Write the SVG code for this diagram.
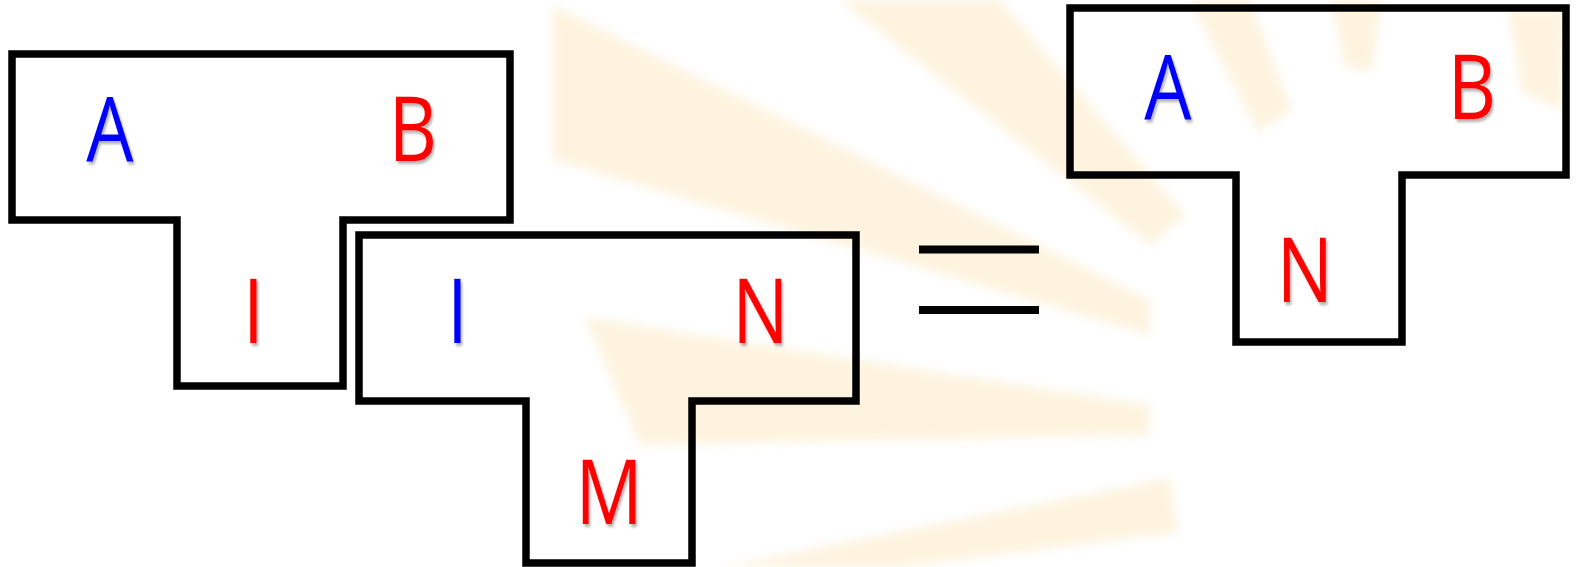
<svg xmlns="http://www.w3.org/2000/svg" width="1579" height="567" viewBox="0 0 1579 567">
  <defs>
    <filter id="shadow" x="-20%" y="-20%" width="140%" height="140%">
      <feDropShadow dx="2" dy="3" stdDeviation="1.5" flood-color="#000" flood-opacity="0.3"/>
    </filter>
    <filter id="soft" x="-10%" y="-10%" width="120%" height="120%">
      <feGaussianBlur stdDeviation="5"/>
    </filter>
  </defs>
  <style>
    .ray { fill: #FBE0A8; }
    .tile { fill: none; stroke: #000; stroke-width: 7.5; stroke-linejoin: miter; }
    .eq { stroke: #000; stroke-width: 8; }
    .lbl { font-family: "Open Sans", "Liberation Sans", sans-serif; font-size: 89px; font-weight: 500; text-anchor: middle; filter: url(#shadow); }
    .blue { fill: #0000FF; }
    .red { fill: #FF0000; }
  </style>
  <rect width="1579" height="567" fill="#FFFFFF"/>
  <g id="background" opacity="0.36" filter="url(#soft)">
    <polygon class="ray" points="553,5 1150,300 1150,335 553,160"/>
    <polygon class="ray" points="585,317 1150,405 1150,435 640,445"/>
    <polygon class="ray" points="720,567 1170,478 1178,532 900,567"/>
    <polygon class="ray" points="840,0 1000,0 1185,215 1150,245"/>
    <polygon class="ray" points="1190,0 1250,0 1292,110 1258,132"/>
    <polygon class="ray" points="1330,0 1382,0 1372,72 1345,66"/>
    <polygon class="ray" points="1508,10 1566,10 1562,110 1522,92"/>
  </g>
  <g id="tile-left">
    <path class="tile" d="M12,54 H510 V220 H343 V386 H177 V220 H12 Z"/>
    <text class="lbl blue" transform="translate(110,161) scale(0.84,1)">A</text>
    <text class="lbl red" transform="translate(413,161) scale(0.84,1)">B</text>
    <text class="lbl red" transform="translate(253.5,343) scale(0.84,1)">I</text>
  </g>
  <g id="tile-middle">
    <path class="tile" d="M359,235 H856 V401 H692 V563 H526 V401 H359 Z"/>
    <text class="lbl blue" transform="translate(457.5,343) scale(0.84,1)">I</text>
    <text class="lbl red" transform="translate(760.5,343) scale(0.84,1)">N</text>
    <text class="lbl red" transform="translate(609,524) scale(0.84,1)">M</text>
  </g>
  <g id="connectors">
    <line class="eq" x1="919" y1="249.5" x2="1039" y2="249.5"/>
    <line class="eq" x1="919" y1="310" x2="1039" y2="310"/>
  </g>
  <g id="tile-right">
    <path class="tile" d="M1070,8 H1566 V175 H1402 V342 H1236 V175 H1070 Z"/>
    <text class="lbl blue" transform="translate(1168,119) scale(0.84,1)">A</text>
    <text class="lbl red" transform="translate(1472,119) scale(0.84,1)">B</text>
    <text class="lbl red" transform="translate(1305,302) scale(0.84,1)">N</text>
  </g>
</svg>
